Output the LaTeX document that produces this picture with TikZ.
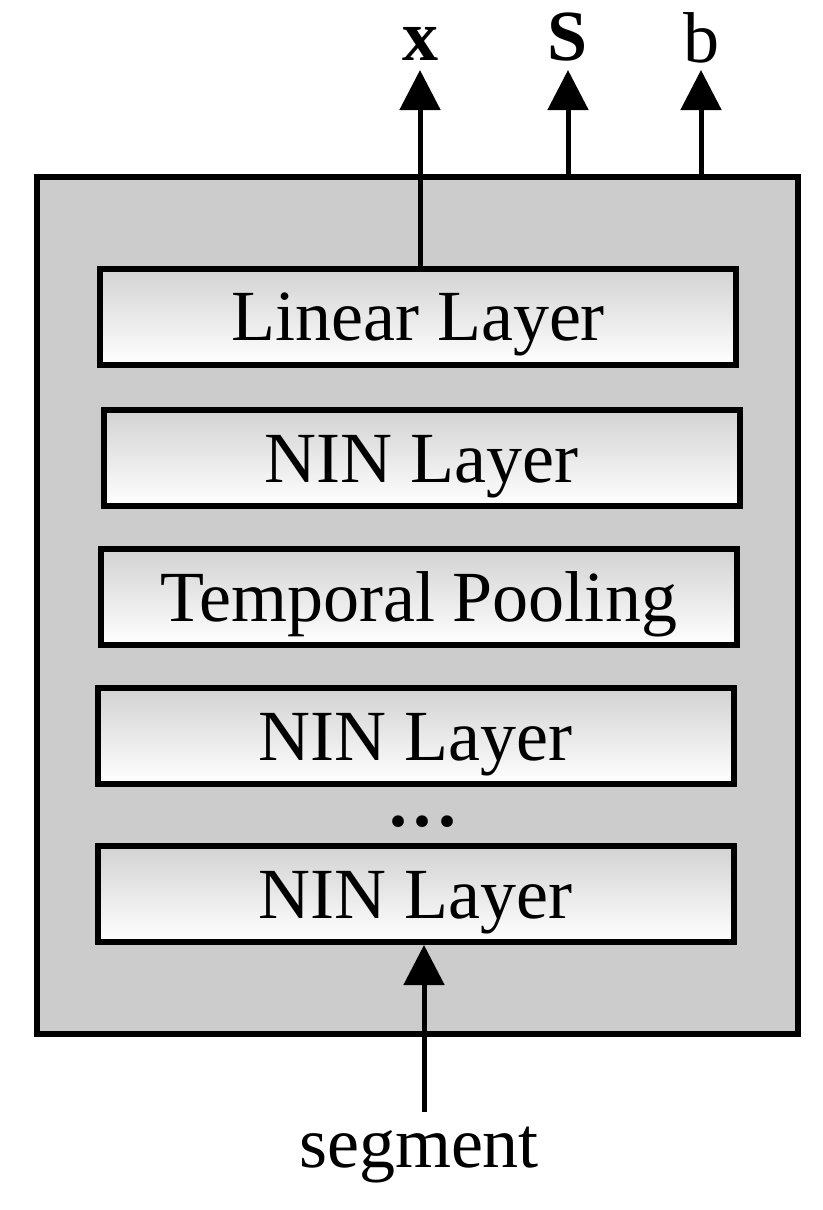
\documentclass[tikz,border=0pt]{standalone}
\usepackage{fontspec}
\setmainfont{Liberation Serif}
\usetikzlibrary{arrows.meta}
\begin{document}
\begin{tikzpicture}[x=1pt,y=-1pt,
  layerbox/.style={draw=black, line width=6pt, minimum width=636pt, minimum height=96pt, inner sep=0pt,
    text height=60pt, text depth=12pt,
    top color=gray!35, bottom color=white, font=\fontsize{72}{80}\selectfont},
  outerbox/.style={draw=black, line width=6pt, fill=black!20, minimum width=761pt, minimum height=857pt, inner sep=0pt},
  lbl/.style={inner sep=0pt, anchor=base, font=\fontsize{72}{80}\selectfont},
  arr/.style={line width=5pt, -{Triangle[length=40pt,width=40pt]}}
]
\useasboundingbox (0,0) rectangle (822,1210);
\node[outerbox] (outer) at (417.5,605.5) {};
\node[layerbox] (lin) at (418,316.5) {Linear Layer};
\node[layerbox] (nin1) at (421.5,458) {NIN Layer};
\node[layerbox] (pool) at (418.5,597) {Temporal Pooling};
\node[layerbox] (nin2) at (415.5,736) {NIN Layer};
\node[lbl] (dots) at (423,826) {\textbf{.\hspace{7pt}.\hspace{7pt}.}};
\node[layerbox] (nin3) at (415.5,894) {NIN Layer};
\node[lbl] (xl) at (420,60) {\textbf{x}};
\node[lbl] (sl) at (568,60) {\textbf{S}};
\node[lbl] (bl) at (701,62) {b};
\node[lbl] (seg) at (419,1167) {segment};
\coordinate (xt) at (420,70);
\coordinate (st) at (568,70);
\coordinate (bt) at (701,70);
\coordinate (segt) at (424,1112);
\draw[arr] (lin.north -| xt) -- (xt);
\draw[arr] (outer.north -| st) -- (st);
\draw[arr] (outer.north -| bt) -- (bt);
\draw[arr] (segt) -- (nin3.south -| segt);
\end{tikzpicture}
\end{document}
